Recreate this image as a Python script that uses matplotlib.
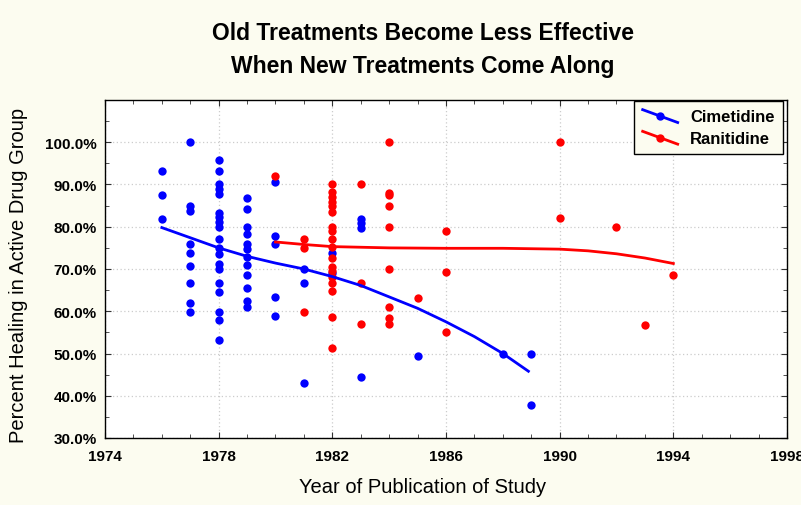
import matplotlib
matplotlib.use("Agg")
import matplotlib.pyplot as plt
from matplotlib.lines import Line2D
from matplotlib.legend_handler import HandlerBase
from matplotlib.ticker import MultipleLocator, FuncFormatter

plt.rcParams['font.family'] = ['Liberation Sans', 'DejaVu Sans']

# Cimetidine studies (year, % healing)
cim_years = ([1976] * 3 + [1977] * 9 + [1978] * 19 + [1979] * 12 + [1980] * 5
             + [1981] * 3 + [1982] * 2 + [1983] * 4 + [1985, 1988, 1989, 1989])
cim_heal = [93.3, 87.5, 81.8,
            100.0, 85.0, 83.7, 75.9, 73.7, 70.8, 66.7, 61.9, 59.8,
            95.8, 93.3, 90.2, 89.0, 87.8, 83.3, 82.3, 81.1, 80.0, 77.0,
            74.9, 73.5, 71.2, 70.0, 66.7, 64.6, 59.9, 57.9, 53.1,
            86.8, 84.1, 80.0, 78.2, 75.9, 74.7, 72.9, 70.9, 68.6, 65.6, 62.4, 60.9,
            90.7, 77.8, 75.9, 63.4, 58.9,
            69.9, 66.7, 43.0,
            73.7, 69.1,
            81.9, 80.9, 79.8, 44.4,
            49.3, 50.0, 50.0, 37.9]

# Ranitidine studies
ran_years = ([1980] + [1981] * 3 + [1982] * 18 + [1983] * 3 + [1984] * 9
             + [1985] + [1986] * 3 + [1990, 1990, 1992, 1993, 1994])
ran_heal = [91.9,
            77.0, 74.9, 59.8,
            90.0, 88.2, 87.0, 85.8, 84.8, 83.5, 80.0, 78.9, 77.2, 75.2,
            72.5, 70.5, 69.6, 68.2, 66.6, 64.9, 58.7, 51.3,
            90.0, 66.7, 56.9,
            100.0, 88.0, 87.4, 84.8, 80.0, 70.0, 61.0, 58.3, 57.0,
            63.2,
            79.1, 69.3, 55.2,
            100.0, 82.1, 80.0, 56.7, 68.6]

# smoothed trend lines
cim_fit_x = [1976, 1977, 1978, 1979, 1980, 1981, 1982, 1983, 1984, 1985, 1986, 1987, 1988, 1988.9]
cim_fit_y = [79.8, 77.4, 75.0, 73.0, 71.4, 70.0, 68.2, 66.1, 63.4, 60.7, 57.5, 54.0, 50.0, 45.8]
ran_fit_x = [1980, 1981, 1982, 1984, 1986, 1988, 1990, 1991, 1992, 1993, 1994]
ran_fit_y = [76.4, 75.8, 75.3, 75.0, 74.9, 74.9, 74.7, 74.3, 73.6, 72.6, 71.3]

year_ticks = [1974, 1978, 1982, 1986, 1990, 1994, 1998]
pct_ticks = [30, 40, 50, 60, 70, 80, 90, 100]

BG = '#fcfcf0'
BLUE = '#0000ff'
RED = '#ff0000'


class SlantedLine(HandlerBase):
    # legend keys drawn as a falling diagonal with a dot in the middle
    def create_artists(self, legend, orig_handle, xdescent, ydescent,
                       width, height, fontsize, trans):
        x0, x1 = -xdescent, -xdescent + width
        y0, y1 = -ydescent + height * 1.0, -ydescent - height * 0.1
        seg = Line2D([x0, x1], [y0, y1], color=orig_handle.get_color(),
                     lw=orig_handle.get_linewidth(), transform=trans)
        dot = Line2D([(x0 + x1) / 2], [(y0 + y1) / 2], marker='o', ms=5,
                     color=orig_handle.get_color(), transform=trans)
        return [seg, dot]


fig = plt.figure(figsize=(8.01, 5.06), dpi=100, facecolor=BG)
ax = fig.add_axes([105 / 801, 1 - 439 / 506, 682 / 801, 338 / 506])
ax.set_facecolor('white')

ax.scatter(cim_years, cim_heal, s=36, color=BLUE, zorder=3, linewidths=0)
ax.scatter(ran_years, ran_heal, s=36, color=RED, zorder=4, linewidths=0)
h1, = ax.plot(cim_fit_x, cim_fit_y, color=BLUE, lw=2.0, zorder=5)
h2, = ax.plot(ran_fit_x, ran_fit_y, color=RED, lw=2.0, zorder=5)

ax.set_xlim(1974, 1998)
ax.set_ylim(30, 110)
ax.set_xticks(year_ticks)
ax.set_yticks(pct_ticks)
ax.xaxis.set_minor_locator(MultipleLocator(1))
ax.yaxis.set_minor_locator(MultipleLocator(5))
ax.yaxis.set_major_formatter(FuncFormatter(lambda v, p: f"{v:.1f}%"))
ax.tick_params(which='both', direction='in', top=True, right=True, color='#333333')
ax.tick_params(which='major', length=4, width=0.8, labelsize=11)
ax.tick_params(axis='x', which='major', pad=8)
ax.tick_params(axis='y', which='major', pad=6)
ax.tick_params(which='minor', length=3, width=0.6)
for lab in ax.get_xticklabels() + ax.get_yticklabels():
    lab.set_fontweight('bold')
ax.grid(True, which='major', color='#cccccc', linestyle=(0, (1, 2)), lw=0.9)
for sp in ax.spines.values():
    sp.set_linewidth(1.0)

ax.set_xlabel("Year of Publication of Study", fontsize=14.5)
ax.xaxis.set_label_coords((423 - 105) / 682, -0.115)
ax.set_ylabel("Percent Healing in Active Drug Group", fontsize=14.5)
ax.yaxis.set_label_coords(-0.113, 0.485)

fig.text(423 / 801, 1 - 33 / 506, "Old Treatments Become Less Effective",
         ha='center', va='center', fontsize=16.5, fontweight='bold')
fig.text(423 / 801, 1 - 66 / 506, "When New Treatments Come Along",
         ha='center', va='center', fontsize=16.5, fontweight='bold')

leg = ax.legend([h1, h2], ["Cimetidine", "Ranitidine"], loc='upper right',
                bbox_to_anchor=(783 / 801, 1 - 102 / 506), bbox_transform=fig.transFigure,
                handler_map={Line2D: SlantedLine()}, fancybox=False, framealpha=1,
                facecolor=BG, edgecolor='black', prop={'weight': 'bold', 'size': 12},
                handlelength=2.1, borderpad=0.5, labelspacing=0.4, handletextpad=0.75,
                borderaxespad=0)
leg.get_frame().set_linewidth(1.0)

fig.savefig("out.png", dpi=100, facecolor=BG)
